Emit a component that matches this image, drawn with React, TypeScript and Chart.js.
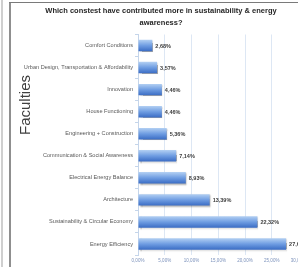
import React, { useEffect, useRef } from "react";
import { Chart, registerables } from "chart.js";

Chart.register(...registerables);

const titleLines = ["Which constest have contributed more in sustainability & energy", "awareness?"];
const yAxisTitle = "Faculties";
const categories = [
  "Comfort Conditions",
  "Urban Design, Transportation & Affordability",
  "Innovation",
  "House Functioning",
  "Engineering + Construction",
  "Communication & Social Awareness",
  "Electrical Energy Balance",
  "Architecture",
  "Sustainability & Circular Economy",
  "Energy Efficiency",
];
const values = [2.68, 3.57, 4.46, 4.46, 5.36, 7.14, 8.93, 13.39, 22.32, 27.68];
const xTicks = [0, 5, 10, 15, 20, 25, 30];

const FONT = "'Liberation Sans', Arial, sans-serif";
const fmt = (v: number) => v.toFixed(2).replace(".", ",") + "%";

export default function App() {
  const ref = useRef<HTMLCanvasElement>(null);
  useEffect(() => {
    if (!ref.current) return;
    const barPct = 0.65;
    const catPct = 0.8;
    const valueLabels = {
      id: "valueLabels",
      afterDatasetsDraw(chart: any) {
        const ctx = chart.ctx;
        const meta = chart.getDatasetMeta(0);
        ctx.save();
        ctx.font = `bold 5.5px ${FONT}`;
        ctx.fillStyle = "#404040";
        ctx.textAlign = "left";
        ctx.textBaseline = "middle";
        meta.data.forEach((el: any, i: number) => {
          ctx.fillText(fmt(values[i]), el.x + 3, el.y + 0.5);
        });
        ctx.restore();
      },
    };
    const shadow = {
      id: "barShadow",
      beforeDatasetsDraw(chart: any) {
        const ctx = chart.ctx;
        ctx.save();
        ctx.shadowColor = "rgba(0,0,0,0.35)";
        ctx.shadowOffsetX = 1;
        ctx.shadowOffsetY = 1;
        ctx.shadowBlur = 1.5;
      },
      afterDatasetsDraw(chart: any) {
        chart.ctx.restore();
      },
    };
    const axisTitle = {
      id: "axisTitle",
      afterDraw(chart: any) {
        const ctx = chart.ctx;
        ctx.save();
        ctx.translate(26, 105);
        ctx.rotate(-Math.PI / 2);
        ctx.font = `15px ${FONT}`;
        ctx.fillStyle = "#404040";
        ctx.textAlign = "center";
        ctx.textBaseline = "middle";
        ctx.fillText(yAxisTitle, 0, 0);
        ctx.restore();
      },
    };
    const chart = new Chart(ref.current, {
      type: "bar",
      data: {
        labels: categories,
        datasets: [
          {
            data: values,
            barPercentage: barPct,
            categoryPercentage: catPct,
            borderWidth: 0,
            backgroundColor: (c: any) => {
              const ch = c.chart;
              const { ctx, chartArea, scales } = ch;
              if (!chartArea || c.dataIndex === undefined || !scales.y) return "#6a9be0";
              const y = scales.y.getPixelForValue(c.dataIndex);
              const slot = (chartArea.bottom - chartArea.top) / categories.length;
              const h = (slot * barPct * catPct) / 2;
              const g = ctx.createLinearGradient(0, y - h, 0, y + h);
              g.addColorStop(0, "#b3d0f3");
              g.addColorStop(0.5, "#6f9de2");
              g.addColorStop(1, "#3a6cc4");
              return g;
            },
          },
        ],
      },
      options: {
        indexAxis: "y",
        animation: false,
        responsive: false,
        maintainAspectRatio: false,
        layout: { padding: { left: 23.5, right: 41.5, top: 0, bottom: 0 } },
        plugins: {
          legend: { display: false },
          tooltip: { enabled: false },
          title: {
            display: true,
            text: titleLines,
            color: "#262626",
            font: { family: FONT, size: 7.5, weight: "bold", lineHeight: 1.6 },
            padding: { top: 5, bottom: 5.5 },
          },
        },
        scales: {
          x: {
            min: 0,
            max: 30,
            afterFit: (s: any) => {
              s.height = 12;
            },
            afterBuildTicks: (s: any) => {
              s.ticks = xTicks.map((v) => ({ value: v }));
            },
            ticks: {
              color: "#7b91bb",
              font: { family: FONT, size: 4.5 },
              padding: 3,
              callback: (v: any) => fmt(Number(v)),
            },
            grid: { color: "#dde7f4", drawTicks: false, lineWidth: 1 },
            border: { display: false },
          },
          y: {
            afterFit: (s: any) => {
              s.width = 114.5;
            },
            ticks: {
              color: "#595959",
              font: { family: FONT, size: 5.6 },
              padding: 2,
            },
            grid: {
              drawOnChartArea: false,
              drawTicks: true,
              tickLength: 3,
              offset: true,
              color: "#c5d5ea",
            },
            border: { display: true, color: "#c5d5ea" },
          },
        },
      },
      plugins: [shadow, valueLabels, axisTitle],
    } as any);
    return () => chart.destroy();
  }, []);

  return (
    <div
      style={{
        position: "fixed",
        left: 0,
        top: 0,
        width: 298,
        height: 267,
        overflow: "hidden",
        background: "#fff",
      }}
    >
      <canvas ref={ref} width={340} height={267} style={{ position: "absolute", left: 0, top: 0, width: 340, height: 267 }} />
      <div style={{ position: "absolute", left: 1, top: 0, width: 2, height: 267, background: "#cfcfcf" }} />
      <div style={{ position: "absolute", left: 9, top: 2, width: 2, height: 265, background: "#8f8f8f" }} />
      <div style={{ position: "absolute", left: 9, top: 2, width: 289, height: 1, background: "#7a7a7a" }} />
    </div>
  );
}
